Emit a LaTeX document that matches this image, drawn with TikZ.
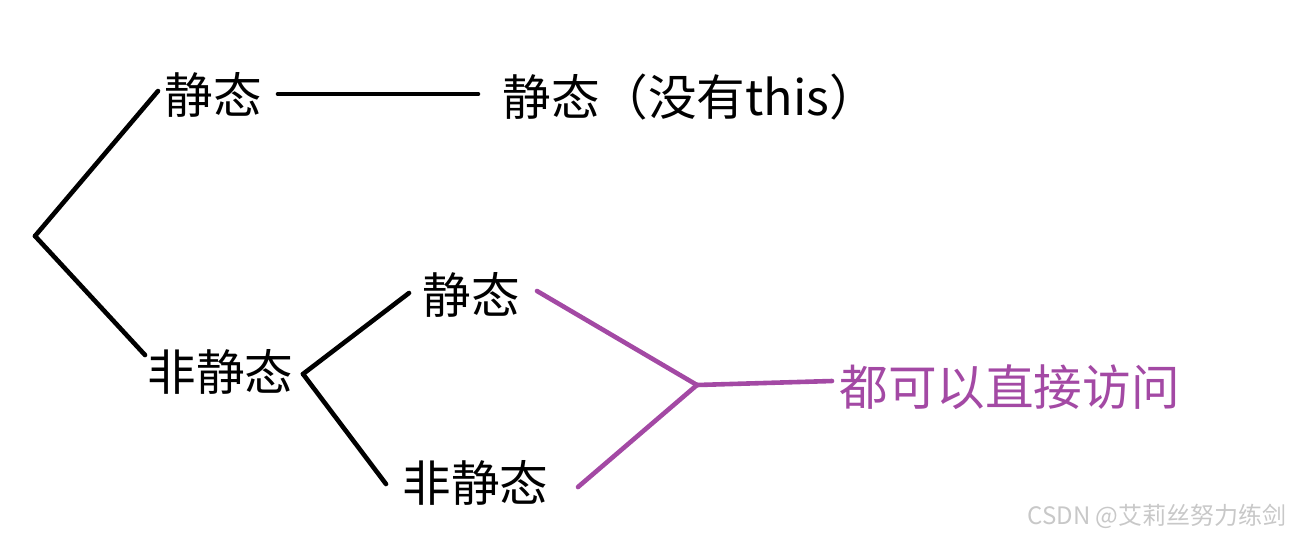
\documentclass[tikz,border=0pt]{standalone}
\usepackage{fontspec}
\newfontfamily\cjk{Noto Sans CJK SC}
\definecolor{paintpurple}{RGB}{163,73,164}
\definecolor{wmgray}{RGB}{200,200,200}
\begin{document}
\begin{tikzpicture}[x=0.5pt,y=-0.5pt,
  lbl/.style={font=\cjk\fontsize{24.3pt}{27pt}\selectfont, inner sep=0pt, anchor=west},
  blk/.style={line width=2.3pt, black, line cap=round},
  pur/.style={line width=2.3pt, paintpurple, line cap=round}]
\useasboundingbox (0,0) rectangle (1290,538);
% text nodes
\node[lbl] (s1) at (164,95) {静态};
\node[lbl] (s1r) at (502,97) {静态（没有this）};
\node[lbl] (ns) at (147,372) {非静态};
\node[lbl] (s2) at (422,295) {静态};
\node[lbl] (ns2) at (402,483) {非静态};
\node[lbl, text=paintpurple] (all) at (839,387) {都可以直接访问};
\node[font=\cjk\fontsize{12pt}{14pt}\selectfont, text=wmgray, inner sep=0pt, anchor=east] (wm) at (1287,516) {CSDN @艾莉丝努力练剑};
% junction coordinates
\coordinate (root) at (35,236);
\coordinate (s1a) at (158,91);
\coordinate (s1b) at (278,94);
\coordinate (s1c) at (478,94);
\coordinate (nsa) at (145,355);
\coordinate (nsb) at (303,374);
\coordinate (s2a) at (409,293);
\coordinate (ns2a) at (386,484);
\coordinate (s2b) at (537,291);
\coordinate (ns2b) at (578,487);
\coordinate (join) at (697,385);
\coordinate (alla) at (832,381);
% black connectors
\draw[blk] (root) -- (s1a);
\draw[blk] (root) -- (nsa);
\draw[blk] (s1b) -- (s1c);
\draw[blk] (nsb) -- (s2a);
\draw[blk] (nsb) -- (ns2a);
% purple connectors
\draw[pur] (s2b) -- (join);
\draw[pur] (ns2b) -- (join);
\draw[pur] (join) -- (alla);
\end{tikzpicture}
\end{document}
